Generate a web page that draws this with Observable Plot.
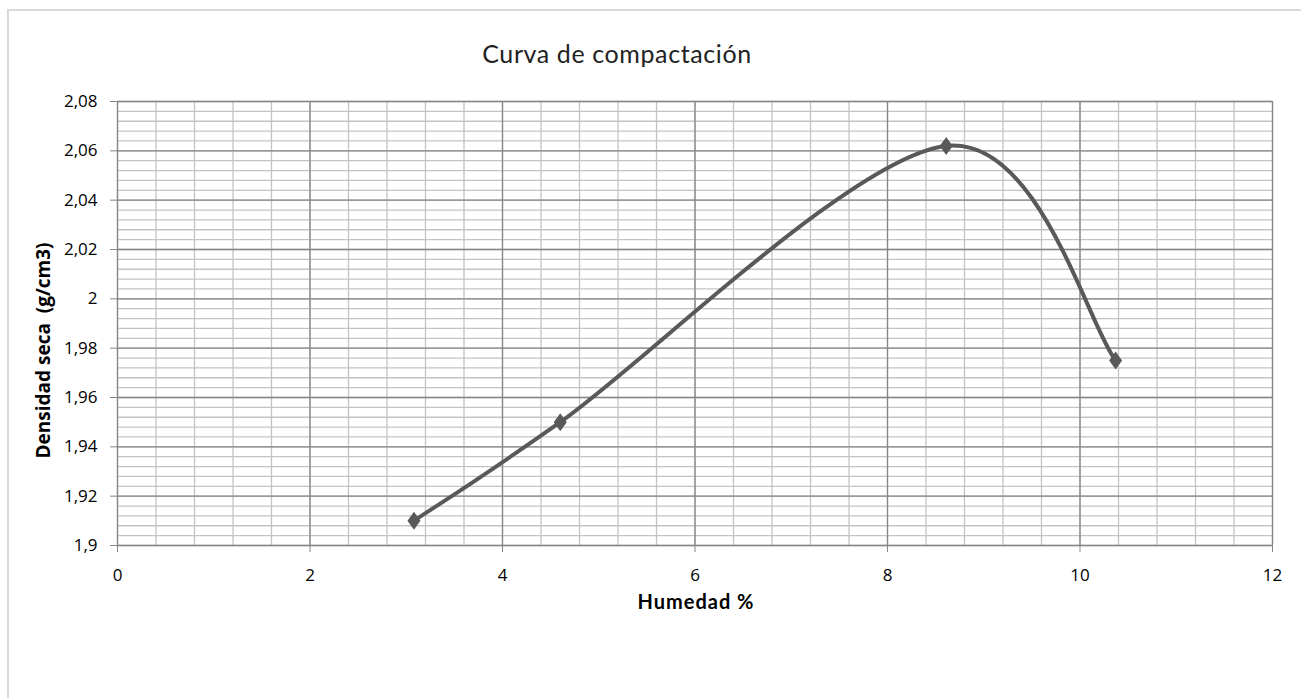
<!DOCTYPE html>
<html>
<head>
<meta charset="utf-8">
<script src="https://cdn.jsdelivr.net/npm/d3@7"></script>
<script src="https://cdn.jsdelivr.net/npm/@observablehq/plot@0.6"></script>
<style>
  html, body { margin: 0; padding: 0; background: #fff; overflow: hidden; }
  #wrap { position: relative; width: 1301px; height: 698px; }
  #border { position: absolute; left: 7px; top: 9px; width: 1400px; height: 800px;
            border-left: 2px solid #d9d9d9; border-top: 2px solid #d9d9d9; box-sizing: border-box; }
  #chart { position: absolute; left: 0; top: 0; }
</style>
</head>
<body>
<div id="wrap"><div id="border"></div><div id="chart"></div></div>
<script>
// Data
const humedad  = [3.08, 4.60, 8.61, 10.37];
const densidad = [1.910, 1.950, 2.062, 1.975];

// Axis ticks
const xMajor = [0, 2, 4, 6, 8, 10, 12];
const yMajor = [1.9, 1.92, 1.94, 1.96, 1.98, 2, 2.02, 2.04, 2.06, 2.08];
const xMinorStep = 0.4;
const yMinorStep = 0.004;

const title = "Curva de compactación";
const xLabel = "Humedad %";
const yLabel = "Densidad seca  (g/cm3)";

const xMinor = d3.range(0, 31).map(i => i * xMinorStep);
const yMinor = d3.range(0, 46).map(i => 1.9 + i * yMinorStep);

const data = humedad.map((h, i) => ({h, d: densidad[i]}));
const fmt = v => String(v).replace(".", ",");

// Excel-style smoothed line (Bezier, tangent = (P[i+1]-P[i-1])/6, endpoints duplicated)
function excelSmooth(context) {
  let pts;
  return {
    areaStart() {}, areaEnd() {},
    lineStart() { pts = []; },
    point(x, y) { pts.push([+x, +y]); },
    lineEnd() {
      const n = pts.length;
      if (!n) return;
      context.moveTo(pts[0][0], pts[0][1]);
      if (n === 1) return;
      const P = i => pts[Math.max(0, Math.min(n - 1, i))];
      for (let i = 0; i < n - 1; i++) {
        const p0 = P(i - 1), p1 = P(i), p2 = P(i + 1), p3 = P(i + 2);
        context.bezierCurveTo(
          p1[0] + (p2[0] - p0[0]) / 6, p1[1] + (p2[1] - p0[1]) / 6,
          p2[0] - (p3[0] - p1[0]) / 6, p2[1] - (p3[1] - p1[1]) / 6,
          p2[0], p2[1]
        );
      }
    }
  };
}

// Diamond marker a bit wider than d3's default
const diamondMarker = {
  draw(context, size) {
    const h = 9, w = 6.5;
    context.moveTo(0, -h);
    context.lineTo(w, 0);
    context.lineTo(0, h);
    context.lineTo(-w, 0);
    context.closePath();
  }
};

const chart = Plot.plot({
  width: 1301,
  height: 698,
  marginLeft: 117,
  marginRight: 29,
  marginTop: 101,
  marginBottom: 153,
  style: {fontFamily: "'Open Sans', sans-serif", fontSize: "17px", color: "#000", background: "transparent"},
  x: {domain: [0, 12]},
  y: {domain: [1.9, 2.08]},
  marks: [
    Plot.ruleX(xMinor, {stroke: "#c3c3c3", strokeWidth: 1.3}),
    Plot.ruleY(yMinor, {stroke: "#c3c3c3", strokeWidth: 1.3}),
    Plot.ruleX(xMajor, {stroke: "#878787", strokeWidth: 1.3}),
    Plot.ruleY(yMajor, {stroke: "#878787", strokeWidth: 1.3}),
    Plot.axisX({ticks: xMajor, tickFormat: fmt, tickSize: 7, tickPadding: 16, stroke: "#878787", fill: "#000", label: null, fontSize: 17}),
    Plot.axisY({ticks: yMajor, tickFormat: fmt, tickSize: 7, tickPadding: 13, stroke: "#878787", fill: "#000", label: null, fontSize: 17}),
    Plot.line(data, {x: "h", y: "d", curve: excelSmooth, stroke: "#595959", strokeWidth: 4}),
    Plot.dot(data, {x: "h", y: "d", symbol: diamondMarker, r: 6, fill: "#595959", stroke: "none"}),
    Plot.text([title], {frameAnchor: "top", textAnchor: "middle", dx: -78, dy: -47, fontSize: 25, fontFamily: "Lato, sans-serif", fill: "#222", lineAnchor: "middle", style: {letterSpacing: "0.6px"}}),
    Plot.text([xLabel], {frameAnchor: "bottom", textAnchor: "middle", dx: 1, dy: 57, fontSize: 20, fontWeight: "bold", fontFamily: "Lato, sans-serif", fill: "#000", lineAnchor: "middle"}),
    Plot.text([yLabel], {frameAnchor: "left", textAnchor: "middle", dx: -74, dy: 27, rotate: -90, fontSize: 19, fontWeight: "bold", fontFamily: "'Open Sans', sans-serif", fill: "#000", lineAnchor: "middle"})
  ]
});
document.getElementById("chart").appendChild(chart);
// letter spacing for title and x label (text marks)
chart.querySelectorAll("text").forEach(t => {
  if (t.textContent === title) t.setAttribute("letter-spacing", "0.6");
  if (t.textContent === xLabel) t.setAttribute("letter-spacing", "1");
});
</script>
</body>
</html>
